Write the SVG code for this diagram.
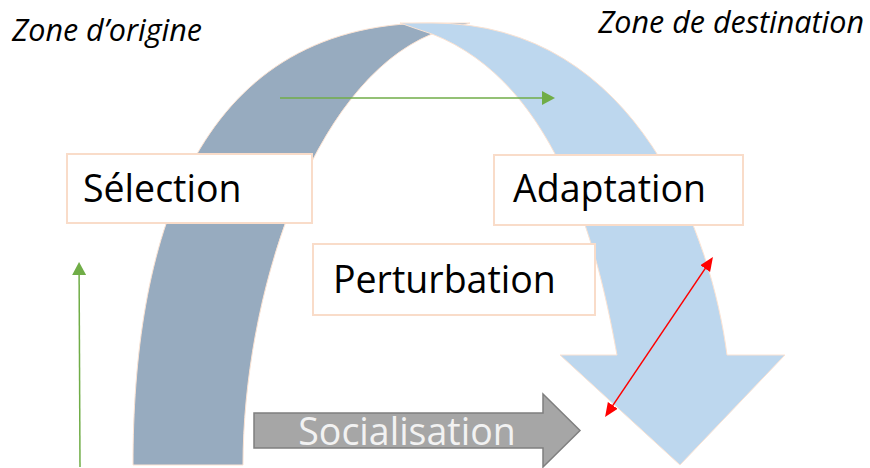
<svg xmlns="http://www.w3.org/2000/svg" width="870" height="468" viewBox="0 0 870 468">
  <style>
    .zone { font-family: "Open Sans", "Liberation Sans", sans-serif; font-style: italic; font-size: 30.5px; fill: #000000; }
    .lbl { font-family: "Open Sans", "Liberation Sans", sans-serif; font-size: 37.5px; fill: #000000; }
    .box { fill: #FFFFFF; stroke: #F9DCC9; stroke-width: 2; }
    .band { stroke: #FBE3D3; stroke-width: 1; stroke-linejoin: round; }
    .green { stroke: #70AD47; stroke-width: 1.5; fill: none; }
    .red { stroke: #FF0000; stroke-width: 1.5; fill: none; }
  </style>
  <defs>
    <marker id="gh" markerUnits="userSpaceOnUse" markerWidth="14" markerHeight="14" refX="3" refY="7" orient="auto">
      <path d="M0,0 L13,7 L0,14 Z" fill="#70AD47"/>
    </marker>
    <marker id="rh" markerUnits="userSpaceOnUse" markerWidth="15" markerHeight="13" refX="3" refY="6" orient="auto-start-reverse">
      <path d="M0,0 L14,6 L0,12 Z" fill="#FF0000"/>
    </marker>
  </defs>
  <rect width="870" height="468" fill="#FFFFFF"/>

  <g id="arch">
    <path class="band" fill="#97ABBF" d="M133,465 C133,250 190,23 432,23 L470,23 L432,34 C310,84 243,300 243,465 Z"/>
    <path class="band" fill="#BDD7EE" d="M400,23 L432,23 C640,23 712,240 727,355 L785,355 L680,465 L560,355 L617,355 C599,255 560,84 432,34 Q414,28 400,23 Z"/>
  </g>

  <g id="zone-origine"><text class="zone" x="12" y="41">Zone d’origine</text></g>
  <g id="zone-destination"><text class="zone" x="864" y="33" text-anchor="end">Zone de destination</text></g>

  <g id="connectors">
    <line class="green" x1="280" y1="98" x2="545" y2="98" marker-end="url(#gh)"/>
    <line class="green" x1="80" y1="467" x2="79.1" y2="272" marker-end="url(#gh)"/>
    <line class="red" x1="611.2" y1="407.9" x2="706.8" y2="266.1" marker-start="url(#rh)" marker-end="url(#rh)"/>
  </g>

  <g id="selection">
    <rect class="box" x="67" y="154" width="245" height="69"/>
    <text class="lbl" x="83" y="202">Sélection</text>
  </g>
  <g id="adaptation">
    <rect class="box" x="494" y="155" width="249" height="70"/>
    <text class="lbl" x="513" y="202">Adaptation</text>
  </g>
  <g id="perturbation">
    <rect class="box" x="313" y="244" width="282" height="71"/>
    <text class="lbl" x="333" y="293">Perturbation</text>
  </g>
  <g id="socialisation">
    <path d="M254,413 L543,413 L543,394 L580,430.5 L543,467 L543,448 L254,448 Z" fill="#A6A6A6" stroke="#7F7F7F" stroke-width="1.5" stroke-linejoin="miter"/>
    <text class="lbl" x="407" y="445" text-anchor="middle" style="fill:#F2F2F2">Socialisation</text>
  </g>
</svg>
